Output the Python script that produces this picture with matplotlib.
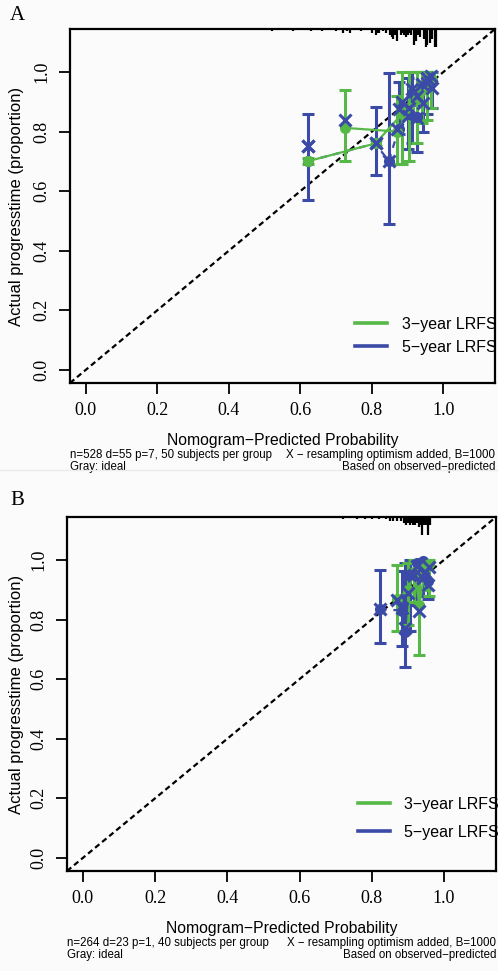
import matplotlib.pyplot as plt
from matplotlib.lines import Line2D

GREEN = '#56b947'
BLUE = '#3b4aa6'
MINUS = '\u2212'

# ---- panel A: n=528, 50 subjects per group ----
predA_3 = [0.620, 0.810, 0.885, 0.905, 0.925, 0.940, 0.955, 0.965, 0.870, 0.726]
obsA_3 = [0.700, 0.760, 0.860, 0.880, 0.910, 0.940, 0.965, 0.980, 0.800, 0.812]
loA_3 = [0.690, 0.750, 0.690, 0.700, 0.760, 0.830, 0.840, 0.880, 0.690, 0.700]
hiA_3 = [0.710, 0.770, 1.000, 1.000, 1.000, 1.000, 1.000, 1.000, 0.918, 0.938]
corA_3 = [0.750, 0.762, 0.900, 0.880, 0.920, 0.960, 0.980, 0.985, 0.807, 0.840]

predA_5 = [0.620, 0.810, 0.847, 0.875, 0.900, 0.912, 0.926, 0.942, 0.955, 0.968]
obsA_5 = [0.700, 0.760, 0.700, 0.810, 0.860, 0.930, 0.850, 0.950, 0.960, 0.970]
loA_5 = [0.570, 0.655, 0.490, 0.793, 0.740, 0.760, 0.730, 0.800, 0.860, 0.880]
hiA_5 = [0.860, 0.883, 0.997, 0.966, 0.980, 1.000, 1.000, 1.000, 1.000, 1.000]
corA_5 = [0.750, 0.762, 0.700, 0.876, 0.851, 0.941, 0.846, 0.896, 0.964, 0.947]

rugA_x = [0.52, 0.58, 0.63, 0.66, 0.70, 0.72, 0.73, 0.74, 0.77, 0.80, 0.81, 0.815,
          0.82, 0.83, 0.84, 0.85, 0.855, 0.86, 0.865, 0.87, 0.88, 0.885, 0.89, 0.895,
          0.90, 0.905, 0.91, 0.918, 0.922, 0.93, 0.935, 0.945, 0.95, 0.955, 0.963,
          0.968, 0.975, 0.98]
rugA_n = [1, 1, 1, 1, 1, 2, 1, 2, 1, 2, 3, 2, 2, 1, 2, 3, 4, 5, 3, 6, 3, 2, 3, 4,
          3, 2, 3, 8, 6, 3, 4, 5, 9, 8, 7, 5, 9, 9]

# ---- panel B: n=264, 40 subjects per group ----
predB_3 = [0.871, 0.900, 0.918, 0.932, 0.948, 0.958]
obsB_3 = [0.870, 0.900, 0.960, 0.850, 0.975, 0.985]
loB_3 = [0.760, 0.780, 0.860, 0.680, 0.900, 0.880]
hiB_3 = [0.982, 0.990, 1.000, 0.960, 1.000, 1.000]
corB_3 = [0.865, 0.890, 0.950, 0.830, 0.960, 0.975]

predB_5 = [0.823, 0.883, 0.892, 0.906, 0.925, 0.943, 0.955]
obsB_5 = [0.835, 0.830, 0.757, 0.950, 0.990, 0.995, 0.930]
loB_5 = [0.720, 0.712, 0.640, 0.760, 0.850, 0.880, 0.870]
hiB_5 = [0.965, 0.964, 0.990, 1.000, 1.000, 1.000, 1.000]
corB_5 = [0.835, 0.840, 0.770, 0.950, 0.980, 0.940, 0.915]

rugB_x = [0.72, 0.76, 0.78, 0.80, 0.82, 0.84, 0.85, 0.86, 0.87, 0.88, 0.89, 0.895,
          0.90, 0.905, 0.91, 0.915, 0.92, 0.925, 0.93, 0.935, 0.94, 0.945, 0.95,
          0.955, 0.96]
rugB_n = [1, 1, 1, 1, 1, 1, 2, 2, 2, 2, 3, 4, 3, 4, 3, 4, 4, 3, 5, 4, 9, 4, 4, 9, 4]

ticks = [0.0, 0.2, 0.4, 0.6, 0.8, 1.0]
tick_labels = ['0.0', '0.2', '0.4', '0.6', '0.8', '1.0']
series_labels = ['3' + MINUS + 'year LRFS', '5' + MINUS + 'year LRFS']

SERIF = 'Liberation Serif'
SANS = 'Liberation Sans'


def draw_series(ax, pred, obs, lo, hi, color, ls):
    yerr = [[o - l for o, l in zip(obs, lo)], [h - o for o, h in zip(obs, hi)]]
    ax.errorbar(pred, obs, yerr=yerr, fmt='none', ecolor=color, elinewidth=2.2,
                capsize=4.5, capthick=2.2, zorder=3)
    ax.plot(pred, obs, color=color, lw=1.6, ls=ls, zorder=4)
    ax.plot(pred, obs, 'o', color=color, ms=7, zorder=4)


def panel(ax, s3, s5, rug_x, rug_n, info, leg_y, leg_space):
    ax.set_facecolor('#fbfbfb')
    ax.set_xlim(-0.044, 1.144)
    ax.set_ylim(-0.044, 1.144)
    ax.axline((0, 0), slope=1, color='black', lw=1.6, ls=(0, (2.5, 1.6)), zorder=2)
    ax.vlines(rug_x, [1 - 0.0058 * n for n in rug_n], 1, color='black', lw=1.6,
              transform=ax.get_xaxis_transform(), zorder=2)
    draw_series(ax, s5[0], s5[1], s5[2], s5[3], BLUE, (0, (3, 3)))
    draw_series(ax, s3[0], s3[1], s3[2], s3[3], GREEN, '-')
    ax.plot(s3[0], s3[4], 'x', color=BLUE, ms=8, mew=2.2, zorder=5)
    ax.plot(s5[0], s5[4], 'x', color=BLUE, ms=8, mew=2.2, zorder=5)

    ax.set_xticks(ticks)
    ax.set_xticklabels(tick_labels, fontfamily=SERIF, fontsize=13)
    ax.set_yticks(ticks)
    ax.set_yticklabels(tick_labels, fontfamily=SERIF, fontsize=13, rotation=90,
                       va='center')
    ax.tick_params(length=8, width=1.3, pad=6)
    for sp in ax.spines.values():
        sp.set_linewidth(1.6)

    x0 = ax.get_position().x0 * 498
    ax.set_xlabel('Nomogram' + MINUS + 'Predicted Probability', fontfamily=SANS,
                  fontsize=11.3)
    ax.xaxis.set_label_coords(0.5, -0.141)
    ax.set_ylabel('Actual progresstime (proportion)', fontfamily=SANS, fontsize=12)
    ax.yaxis.set_label_coords((24 - x0) / 425, 0.5)

    fs = 8.3
    ax.text(0.0, -0.203, info, transform=ax.transAxes, fontfamily=SANS, fontsize=fs,
            ha='left', va='center')
    ax.text(1.0, -0.203, 'X ' + MINUS + ' resampling optimism added, B=1000',
            transform=ax.transAxes, fontfamily=SANS, fontsize=fs, ha='right',
            va='center')
    ax.text(0.0, -0.237, 'Gray: ideal', transform=ax.transAxes, fontfamily=SANS,
            fontsize=fs, ha='left', va='center')
    ax.text(1.0, -0.237, 'Based on observed' + MINUS + 'predicted',
            transform=ax.transAxes, fontfamily=SANS, fontsize=fs, ha='right',
            va='center')

    handles = [Line2D([], [], color=GREEN, lw=2.6), Line2D([], [], color=BLUE, lw=2.6)]
    ax.legend(handles, series_labels, loc='lower left',
              bbox_to_anchor=((349 - x0) / 425, leg_y),
              frameon=False, prop={'family': SANS, 'size': 11.5},
              handlelength=2.0, handletextpad=0.9, labelspacing=leg_space,
              borderaxespad=0)


fig = plt.figure(figsize=(4.98, 9.71), dpi=100, facecolor='#fbfbfb')
axA = fig.add_axes([70 / 498, 588 / 971, 425 / 498, 354 / 971])
axB = fig.add_axes([67 / 498, 100 / 971, 429 / 498, 354 / 971])

panel(axA, (predA_3, obsA_3, loA_3, hiA_3, corA_3),
      (predA_5, obsA_5, loA_5, hiA_5, corA_5), rugA_x, rugA_n,
      'n=528 d=55 p=7, 50 subjects per group', 0.062, 0.48)
panel(axB, (predB_3, obsB_3, loB_3, hiB_3, corB_3),
      (predB_5, obsB_5, loB_5, hiB_5, corB_5), rugB_x, rugB_n,
      'n=264 d=23 p=1, 40 subjects per group', 0.07, 0.8)

fig.text(10 / 498, 1 - 15 / 971, 'A', fontfamily=SERIF, fontsize=15, va='center')
fig.text(10 / 498, 1 - 500 / 971, 'B', fontfamily=SERIF, fontsize=15, va='center')
fig.add_artist(Line2D([0, 1], [1 - 470 / 971, 1 - 470 / 971], color='#ebebeb', lw=1))

fig.savefig('out.png', dpi=100, facecolor=fig.get_facecolor())
